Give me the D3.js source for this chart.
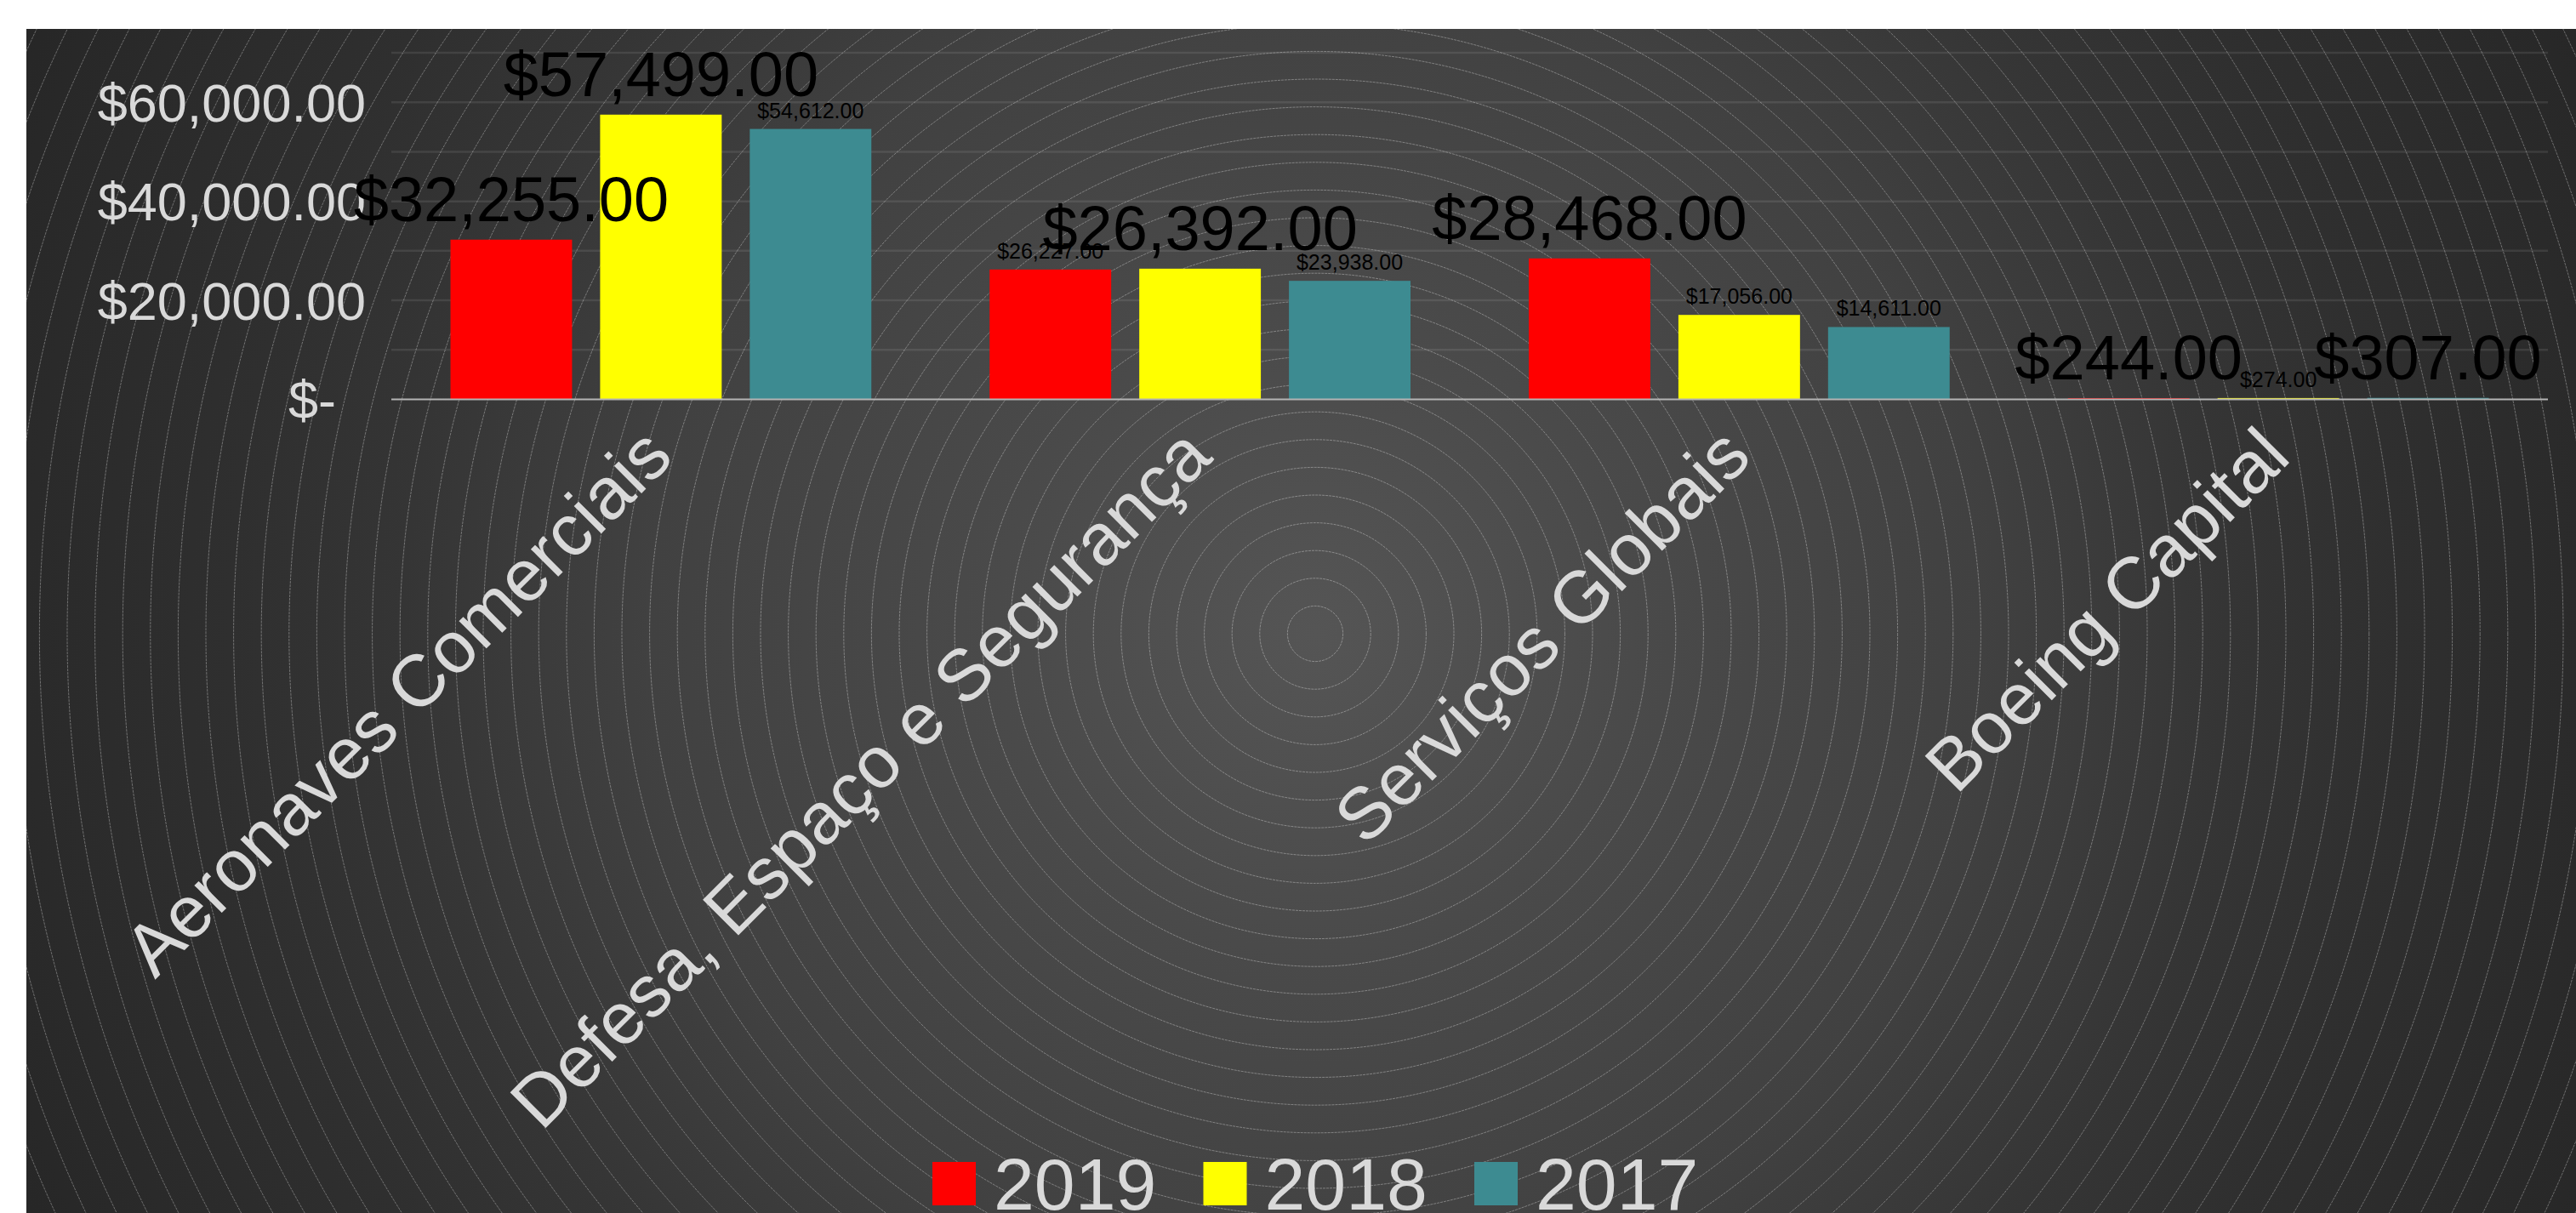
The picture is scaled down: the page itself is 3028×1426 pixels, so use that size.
<!DOCTYPE html>
<meta charset='utf-8'>
<script src='https://cdn.jsdelivr.net/npm/d3@7/dist/d3.min.js'></script>
<style>
  body { margin: 0; background: #fff; }
  text { font-family: 'Liberation Sans', Arial, sans-serif; }
</style>
<body>
<script>
// chart data
var categories = ['Aeronaves Comerciais', 'Defesa, Espaço e Segurança', 'Serviços Globais', 'Boeing Capital'];
var seriesNames = ['2019', '2018', '2017'];
var values2019 = [32255, 26227, 28468, 244];
var values2018 = [57499, 26392, 17056, 274];
var values2017 = [54612, 23938, 14611, 307];
var yLabelTicks = [0, 20000, 40000, 60000];
var yMax = 70000;

// which data labels were drawn big in the original: [series, category]
var bigLabels = [[0, 0], [1, 0], [1, 1], [0, 2], [0, 3], [2, 3]];

var colors = ['#ff0000', '#ffff00', '#3d8b91'];
var seriesValues = [values2019, values2018, values2017];

var width = 3028,
    height = 1426;

var svg = d3.select('body').append('svg').attr('width', width).attr('height', height);

// background panel with radial gradient
var bgX = 31, bgY = 34;
var cx = 1546, cy = 745;
var defs = svg.append('defs');
var grad = defs.append('radialGradient').attr('id', 'bg')
    .attr('gradientUnits', 'userSpaceOnUse')
    .attr('cx', cx).attr('cy', cy).attr('r', 1700);
[[0, '#555555'], [0.22, '#4a4a4a'], [0.46, '#414141'], [0.63, '#353535'], [0.75, '#2f2f2f'], [0.92, '#292929'], [1, '#262626']]
  .forEach(function(s) { grad.append('stop').attr('offset', s[0]).attr('stop-color', s[1]); });
defs.append('clipPath').attr('id', 'panel').append('rect')
    .attr('x', bgX).attr('y', bgY).attr('width', width - bgX).attr('height', height - bgY);

svg.append('rect').attr('x', bgX).attr('y', bgY).attr('width', width - bgX).attr('height', height - bgY)
    .attr('fill', 'url(#bg)');

svg.append('g').attr('clip-path', 'url(#panel)')
  .selectAll('circle').data(d3.range(1, 56)).enter().append('circle')
    .attr('cx', cx).attr('cy', cy)
    .attr('r', function(d) { return d * 32.6; })
    .attr('fill', 'none')
    .attr('stroke', 'rgba(255,255,255,0.33)')
    .attr('stroke-width', 1)
    .attr('stroke-dasharray', '3 1');

// scales
var x0 = d3.scaleBand().domain(categories).range([460, 2995]);
var x1 = d3.scaleBand().domain(seriesNames).range([0, x0.bandwidth()])
    .paddingInner(0.1875).paddingOuter(0.395);
var y = d3.scaleLinear().domain([0, yMax]).range([469.5, 62]);

var fmt = function(v) { return v === 0 ? '$-\u2007' : d3.format('$,.2f')(v); };

// gridlines
var grid = svg.append('g');
grid.selectAll('line').data(y.ticks(7).filter(function(t) { return t > 0; })).enter().append('line')
    .attr('x1', 460).attr('x2', 2995)
    .attr('y1', function(d) { return y(d); }).attr('y2', function(d) { return y(d); })
    .attr('stroke', 'rgba(255,255,255,0.09)')
    .attr('stroke-width', 2.5);

// y axis labels
svg.append('g').selectAll('text').data(yLabelTicks).enter().append('text')
    .attr('x', 430)
    .attr('y', function(d) { return y(d); })
    .attr('dy', '0.36em')
    .attr('text-anchor', 'end')
    .attr('font-size', 63)
    .attr('fill', '#d9d9d9')
    .text(fmt);

// bars
var rows = [];
seriesNames.forEach(function(s, si) {
  categories.forEach(function(c, ci) {
    var big = bigLabels.some(function(b) { return b[0] === si && b[1] === ci; });
    rows.push({series: s, si: si, cat: c, value: seriesValues[si][ci], big: big});
  });
});

svg.append('g').selectAll('rect').data(rows).enter().append('rect')
    .attr('x', function(d) { return x0(d.cat) + x1(d.series); })
    .attr('width', x1.bandwidth())
    .attr('y', function(d) { return y(d.value); })
    .attr('height', function(d) { return y(0) - y(d.value); })
    .attr('fill', function(d) { return colors[d.si]; });

// zero line
svg.append('line')
    .attr('x1', 460).attr('x2', 2995)
    .attr('y1', y(0)).attr('y2', y(0))
    .attr('stroke', '#b4b4b4')
    .attr('stroke-width', 2);

// data labels
svg.append('g').selectAll('text').data(rows).enter().append('text')
    .attr('x', function(d) { return x0(d.cat) + x1(d.series) + x1.bandwidth() / 2; })
    .attr('y', function(d) { return y(d.value) - (d.big ? 22 : 13); })
    .attr('text-anchor', 'middle')
    .attr('font-size', function(d) { return d.big ? 74 : 25; })
    .attr('fill', '#000')
    .text(function(d) { return fmt(d.value); });

// category labels
svg.append('g').selectAll('text').data(categories).enter().append('text')
    .attr('transform', function(d) {
      return 'translate(' + (x0(d) + x0.bandwidth() / 2 + 17) + ',540) rotate(-45)';
    })
    .attr('text-anchor', 'end')
    .attr('font-size', 86)
    .attr('fill', '#d9d9d9')
    .text(function(d) { return d; });

// legend
var legend = svg.append('g').attr('transform', 'translate(1096,1366)');
var item = legend.selectAll('g').data(seriesNames).enter().append('g')
    .attr('transform', function(d, i) { return 'translate(' + (i * 318.5) + ',0)'; });
item.append('rect').attr('width', 51).attr('height', 51)
    .attr('fill', function(d, i) { return colors[i]; });
item.append('text').attr('x', 72).attr('y', 56)
    .attr('font-size', 86)
    .attr('fill', '#d9d9d9')
    .text(function(d) { return d; });
</script>
